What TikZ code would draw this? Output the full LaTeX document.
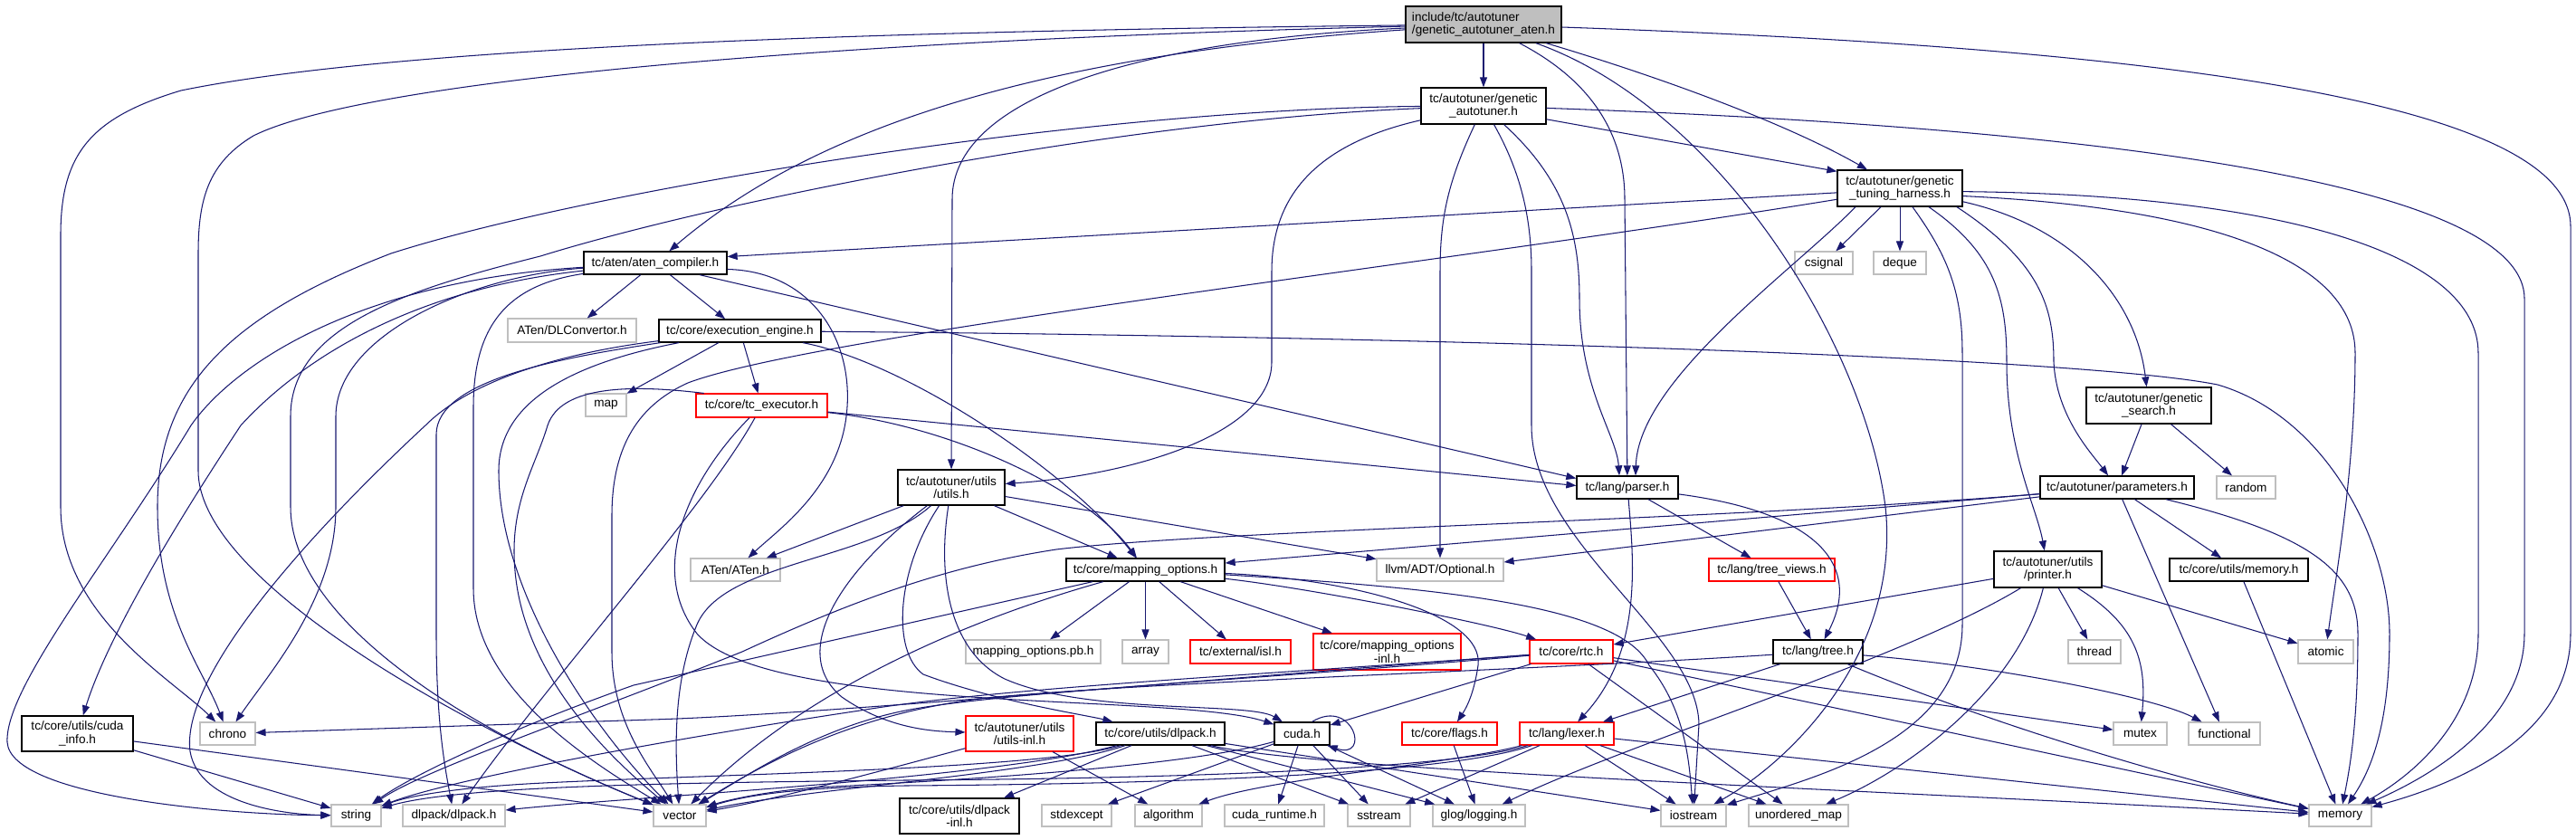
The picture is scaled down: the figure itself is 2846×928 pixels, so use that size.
\documentclass[tikz,border=0pt]{standalone}
\usepackage{fontspec}
\newfontfamily\nf{Liberation Sans}
\usetikzlibrary{arrows.meta}
\definecolor{ec}{HTML}{191970}
\definecolor{gb}{HTML}{BFBFBF}
\definecolor{rb}{HTML}{FF0000}
\newcommand\dfont{\nf\fontsize{13.6pt}{14.5pt}\selectfont}
\begin{document}
\begin{tikzpicture}[x=1pt,y=-1pt,
 nb/.style={draw=black,line width=1.3pt,fill=white,inner sep=0pt,align=center,font=\dfont},
 ng/.style={nb,draw=gb,line width=1.1pt},
 nr/.style={nb,draw=rb,line width=1.1pt},
 sz/.style 2 args={minimum width=#1pt,minimum height=#2pt},
 e/.style={draw=ec,line width=1.05pt,-{Triangle[length=11pt,width=8pt]}}]
\useasboundingbox (0,0) rectangle (2846,928);
\fill[white] (0,0) rectangle (2846,928);
% nodes
\node[nb,fill=gb,sz={172}{40},align=left] (root) at (1639,27) {include/tc/autotuner\\/genetic\_autotuner\_aten.h};
\node[nb,sz={138}{40}] (genauto) at (1639,117) {tc/autotuner/genetic\\\_autotuner.h};
\node[nb,sz={138}{40}] (harness) at (2099,208) {tc/autotuner/genetic\\\_tuning\_harness.h};
\node[nb,sz={158}{25}] (aten) at (724,290.5) {tc/aten/aten\_compiler.h};
\node[ng,sz={64}{25}] (csignal) at (2015,290.5) {csignal};
\node[ng,sz={58}{25}] (deque) at (2099,290.5) {deque};
\node[ng,sz={142}{26}] (dlconv) at (632,365) {ATen/DLConvertor.h};
\node[nb,sz={179}{25}] (exec) at (817.5,365.5) {tc/core/execution\_engine.h};
\node[ng,sz={45}{25}] (map) at (669.5,447.5) {map};
\node[nr,sz={145}{26}] (tcexec) at (841.5,448) {tc/core/tc\_executor.h};
\node[nb,sz={138}{40}] (search) at (2374,448) {tc/autotuner/genetic\\\_search.h};
\node[nb,sz={118}{39}] (utils) at (1051,538.5) {tc/autotuner/utils\\/utils.h};
\node[nb,sz={112}{25}] (parser) at (1798,538.5) {tc/lang/parser.h};
\node[nb,sz={170}{25}] (params) at (2339,538.5) {tc/autotuner/parameters.h};
\node[ng,sz={65}{25}] (random) at (2481.5,538.5) {random};
\node[ng,sz={99}{25}] (atenh) at (812.5,629.5) {ATen/ATen.h};
\node[nb,sz={175}{25}] (mapopt) at (1265.5,629.5) {tc/core/mapping\_options.h};
\node[ng,sz={140}{25}] (optional) at (1591,629.5) {llvm/ADT/Optional.h};
\node[nr,sz={139}{25}] (treeviews) at (1957.5,629.5) {tc/lang/tree\_views.h};
\node[nb,sz={119}{40}] (printer) at (2262.5,629) {tc/autotuner/utils\\/printer.h};
\node[nb,sz={153}{25}] (memh) at (2473.5,629.5) {tc/core/utils/memory.h};
\node[ng,sz={149}{26}] (pb) at (1141.5,720) {mapping\_options.pb.h};
\node[ng,sz={51}{26}] (array) at (1265.5,720) {array};
\node[nr,sz={111}{26}] (isl) at (1370.5,720) {tc/external/isl.h};
\node[nr,sz={163}{40}] (mapoptinl) at (1532.5,720) {tc/core/mapping\_options\\-inl.h};
\node[nr,sz={92}{26}] (rtc) at (1736,720) {tc/core/rtc.h};
\node[nb,sz={99}{26}] (tree) at (2008.5,720) {tc/lang/tree.h};
\node[ng,sz={58}{26}] (thread) at (2314,720) {thread};
\node[ng,sz={61}{26}] (atomic) at (2569.5,720) {atomic};
\node[nb,sz={123}{39}] (cudainfo) at (85.5,810.5) {tc/core/utils/cuda\\\_info.h};
\node[ng,sz={61}{25}] (chrono) at (251.5,810.5) {chrono};
\node[nr,sz={119}{39}] (utilsinl) at (1126.5,810.5) {tc/autotuner/utils\\/utils-inl.h};
\node[nb,sz={142}{25}] (dlpackh) at (1282,810.5) {tc/core/utils/dlpack.h};
\node[nb,sz={61}{25}] (cudah) at (1438.5,810.5) {cuda.h};
\node[nr,sz={105}{25}] (flags) at (1601.5,810.5) {tc/core/flags.h};
\node[nr,sz={104}{25}] (lexer) at (1731,810.5) {tc/lang/lexer.h};
\node[ng,sz={59}{25}] (mutex) at (2364.5,810.5) {mutex};
\node[ng,sz={79}{25}] (functional) at (2457.5,810.5) {functional};
\node[ng,sz={55}{24}] (string) at (393.5,901) {string};
\node[ng,sz={113}{24}] (dlpackdl) at (501.5,901) {dlpack/dlpack.h};
\node[ng,sz={58}{24}] (vector) at (751,901) {vector};
\node[nb,sz={132}{39}] (dlpackinl) at (1060,901.5) {tc/core/utils/dlpack\\-inl.h};
\node[ng,sz={77}{24}] (stdexcept) at (1189.5,901) {stdexcept};
\node[ng,sz={74}{24}] (algorithm) at (1291,901) {algorithm};
\node[ng,sz={110}{24}] (cudart) at (1408,901) {cuda\_runtime.h};
\node[ng,sz={69}{24}] (sstream) at (1523.5,901) {sstream};
\node[ng,sz={102}{24}] (logging) at (1634,901) {glog/logging.h};
\node[ng,sz={72}{24}] (iostream) at (1871,901) {iostream};
\node[ng,sz={110}{24}] (umap) at (1987,901) {unordered\_map};
\node[ng,sz={69}{24}] (memory) at (2585.5,901) {memory};
% root
\draw[e] (root) -- (genauto);
\draw[e] (root) .. controls (1150,60) and (900,140) .. (aten);
\draw[e] (root) .. controls (1250,45) and (1052,110) .. (1052,220) -- (utils);
\draw[e] (root) .. controls (900,35) and (420,55) .. (200,100) .. controls (100,130) and (67,170) .. (67,260) -- (67,560) .. controls (67,680) and (190,750) .. (chrono);
\draw[e] (root) .. controls (900,45) and (400,90) .. (280,150) .. controls (230,180) and (219,220) .. (219,280) -- (219,520) .. controls (219,650) and (550,820) .. (vector);
\draw[e] (root) .. controls (1760,90) and (1795,150) .. (1795,220) -- (parser);
\draw[e] (root) .. controls (1900,120) and (2060,380) .. (2083,560) .. controls (2100,720) and (1980,840) .. (iostream);
\draw[e] (root) .. controls (1850,90) and (1980,140) .. (harness);
\draw[e] (root) .. controls (2300,50) and (2840,100) .. (2840,250) -- (2840,700) .. controls (2840,820) and (2700,870) .. (memory);
% genetic_autotuner
\draw[e] (genauto) .. controls (1200,120) and (650,210) .. (432,280) .. controls (250,350) and (174,430) .. (174,560) .. controls (174,680) and (225,740) .. (chrono);
\draw[e] (genauto) .. controls (1250,132) and (800,220) .. (597,283) .. controls (450,320) and (321,360) .. (321,460) -- (321,560) .. controls (321,680) and (500,800) .. (vector);
\draw[e] (genauto) .. controls (1450,160) and (1405,220) .. (1405,300) -- (1405,400) .. controls (1405,480) and (1250,525) .. (utils);
\draw[e] (genauto) .. controls (1600,200) and (1591,240) .. (1591,300) -- (optional);
\draw[e] (genauto) .. controls (1680,190) and (1692,240) .. (1692,300) -- (1692,470) .. controls (1692,600) and (1875,700) .. (1877,800) -- (iostream);
\draw[e] (genauto) .. controls (1730,200) and (1745,260) .. (1745,330) .. controls (1745,430) and (1786,480) .. ([xshift=-9pt]parser.north);
\draw[e] (genauto) .. controls (2300,140) and (2789,200) .. (2789,330) -- (2789,700) .. controls (2789,800) and (2680,860) .. (memory);
\draw[e] (genauto.-12) -- (harness.165);
% harness
\draw[e] (harness.184) -- (aten.5);
\draw[e] (harness.190) .. controls (1600,290) and (900,370) .. (760,423) .. controls (700,450) and (676,500) .. (676,570) -- (676,720) .. controls (676,800) and (720,850) .. (vector);
\draw[e] ([xshift=-49pt]harness.south) .. controls (1980,300) and (1810,420) .. ([xshift=9pt]parser.north);
\draw[e] ([xshift=-21pt]harness.south) -- (csignal);
\draw[e] (harness) -- (deque);
\draw[e] ([xshift=14pt]harness.south) .. controls (2150,280) and (2168,320) .. (2168,390) -- (2168,690) .. controls (2168,820) and (2000,860) .. (iostream);
\draw[e] ([xshift=32pt]harness.south) .. controls (2205,280) and (2217,330) .. (2217,400) .. controls (2217,500) and (2250,560) .. (printer);
\draw[e] ([xshift=63pt]harness.south) .. controls (2255,290) and (2269,340) .. (2269,400) .. controls (2272,460) and (2310,500) .. (params);
\draw[e] (harness.-12) .. controls (2290,250) and (2360,330) .. (search);
\draw[e] (harness.-3) .. controls (2520,215) and (2738,280) .. (2738,390) -- (2738,700) .. controls (2738,800) and (2660,860) .. (memory);
\draw[e] (harness.-7) .. controls (2450,230) and (2602,290) .. (2602,390) .. controls (2602,520) and (2580,640) .. (atomic);
% aten_compiler
\draw[e] (aten) -- (dlconv);
\draw[e] (aten) -- (exec);
\draw[e] (aten.-5) .. controls (900,300) and (945,380) .. (935,460) .. controls (925,540) and (860,585) .. (atenh);
\draw[e] ([xshift=49pt]aten.south) -- ([yshift=10pt]parser.west);
\draw[e] (aten) .. controls (450,320) and (330,400) .. (266,470) .. controls (200,570) and (120,700) .. (cudainfo);
\draw[e] (aten) .. controls (400,310) and (260,400) .. (211,470) .. controls (120,620) and (5,760) .. (8,820) .. controls (12,880) and (250,900) .. (string);
\draw[e] (aten) .. controls (520,305) and (371,370) .. (371,460) -- (371,560) .. controls (371,660) and (300,740) .. (chrono);
\draw[e] (aten) .. controls (560,315) and (523,360) .. (523,450) -- (523,650) .. controls (523,760) and (650,840) .. (vector);
% execution_engine
\draw[e] (exec) -- (map);
\draw[e] (exec) -- (tcexec);
\draw[e] (exec) .. controls (1000,400) and (1180,520) .. (mapopt);
\draw[e] (exec) .. controls (1600,372) and (2300,395) .. (2450,425) .. controls (2570,460) and (2640,600) .. (2640,700) .. controls (2640,800) and (2620,850) .. (memory);
\draw[e] (exec) .. controls (620,390) and (520,420) .. (470,470) .. controls (330,600) and (200,750) .. (210,830) .. controls (220,890) and (320,900) .. (string);
\draw[e] (exec) .. controls (620,395) and (482,420) .. (482,480) -- (482,700) .. controls (482,800) and (492,850) .. (dlpackdl);
\draw[e] (exec) .. controls (640,400) and (551,440) .. (551,520) .. controls (551,650) and (650,800) .. (vector);
% tc_executor
\draw[e] (tcexec) -- ([yshift=2pt]parser.west);
\draw[e] (tcexec) .. controls (1050,470) and (1200,540) .. (mapopt);
\draw[e] (tcexec) .. controls (780,560) and (600,760) .. (dlpackdl);
\draw[e] (tcexec) .. controls (760,530) and (715,630) .. (770,700) .. controls (850,790) and (1300,765) .. (cudah);
\draw[e] (tcexec.168) .. controls (700,425) and (620,425) .. (605,470) .. controls (590,520) and (560,560) .. (570,640) .. controls (585,760) and (690,850) .. (vector);
% utils
\draw[e] (utils) -- (atenh);
\draw[e] (utils) -- (mapopt);
\draw[e] (utils) -- (optional);
\draw[e] (utils) .. controls (960,620) and (800,620) .. (770,690) .. controls (745,750) and (745,820) .. (vector);
\draw[e] (utils) .. controls (930,630) and (870,720) .. (930,770) .. controls (980,805) and (1030,808) .. (utilsinl);
\draw[e] (utils) .. controls (990,630) and (985,720) .. (1020,745) .. controls (1100,775) and (1200,790) .. (dlpackh);
\draw[e] (utils) .. controls (1035,640) and (1050,720) .. (1110,750) .. controls (1200,790) and (1380,775) .. (cudah);
% mapping_options
\draw[e] (mapopt) -- (pb);
\draw[e] (mapopt) -- (array);
\draw[e] (mapopt) -- (isl);
\draw[e] (mapopt) -- (mapoptinl);
\draw[e] (mapopt) .. controls (1450,650) and (1650,690) .. (rtc);
\draw[e] (mapopt) .. controls (1500,640) and (1640,680) .. (1633,735) .. controls (1628,770) and (1618,785) .. (flags);
\draw[e] (mapopt) .. controls (1600,650) and (1790,670) .. (1822,735) .. controls (1862,785) and (1866,840) .. (iostream);
\draw[e] (mapopt) -- (700,757) .. controls (550,810) and (450,860) .. (string);
\draw[e] (mapopt) .. controls (1050,690) and (880,770) .. (vector);
% rtc
\draw[e] (rtc) -- (cudah);
\draw[e] (rtc) .. controls (1400,745) and (900,790) .. (720,795) -- (chrono);
\draw[e] (rtc) .. controls (1400,745) and (1100,760) .. (950,785) .. controls (750,815) and (500,860) .. (string);
\draw[e] (rtc) .. controls (1400,750) and (1100,765) .. (1000,785) .. controls (900,805) and (820,860) .. (vector);
\draw[e] (rtc) -- (umap);
\draw[e] (rtc) -- (mutex);
\draw[e] (rtc) -- (memory);
% tree
\draw[e] (tree) -- (lexer);
\draw[e] (tree) .. controls (2200,735) and (2380,770) .. (functional);
\draw[e] (tree) .. controls (2200,800) and (2400,860) .. (memory);
\draw[e] (tree) .. controls (1700,740) and (1300,752) .. (1100,770) .. controls (950,785) and (850,840) .. (vector);
% lexer
\draw[e] (lexer) -- (sstream);
\draw[e] (lexer) -- (iostream);
\draw[e] (lexer) -- (umap);
\draw[e] (lexer) -- (memory);
\draw[e] (lexer) .. controls (1600,850) and (1300,860) .. (1000,862) .. controls (700,865) and (500,870) .. (string);
\draw[e] (lexer) .. controls (1600,855) and (1300,866) .. (1000,868) .. controls (870,870) and (820,880) .. (vector);
\draw[e] (lexer) .. controls (1600,845) and (1400,860) .. (algorithm);
% dlpack.h
\draw[e] (dlpackh) -- (dlpackinl);
\draw[e] (dlpackh) .. controls (1100,860) and (700,880) .. (dlpackdl);
\draw[e] (dlpackh) .. controls (1150,850) and (800,855) .. (600,865) .. controls (500,870) and (450,880) .. (string);
\draw[e] (dlpackh) .. controls (1150,855) and (900,870) .. (vector);
\draw[e] (dlpackh) -- (sstream);
\draw[e] (dlpackh) -- (logging);
\draw[e] (dlpackh) -- (iostream);
\draw[e] (dlpackh) .. controls (1450,850) and (2000,870) .. (memory);
% cuda.h
\draw[e] (cudah) -- (cudart);
\draw[e] (cudah) -- (sstream);
\draw[e] (cudah) -- (logging);
\draw[e] (cudah) -- (stdexcept);
\draw[e] (cudah) .. controls (1300,850) and (1000,865) .. (900,870) .. controls (840,875) and (800,885) .. (vector);
\draw[e] (cudah.50) .. controls (1495,770) and (1515,840) .. (cudah.-25);
% others
\draw[e] (flags) -- (logging);
\draw[e] (utilsinl) .. controls (980,850) and (850,885) .. (vector);
\draw[e] (utilsinl) -- (algorithm);
\draw[e] (parser) -- (treeviews);
\draw[e] (parser) .. controls (2000,565) and (2060,620) .. (tree);
\draw[e] (parser) .. controls (1805,620) and (1815,720) .. (lexer);
\draw[e] (treeviews) -- (tree);
\draw[e] (params) -- (mapopt);
\draw[e] (params) -- (optional);
\draw[e] (params) .. controls (1900,575) and (1350,585) .. (1167,607) .. controls (1050,625) and (950,660) .. (820,720) .. controls (620,800) and (470,850) .. (string);
\draw[e] (params) -- (functional);
\draw[e] (params) -- (memh);
\draw[e] (params) .. controls (2550,590) and (2605,630) .. (2605,700) .. controls (2605,790) and (2598,840) .. (memory);
\draw[e] (search) -- (params);
\draw[e] (search) -- (random);
\draw[e] (memh) -- (memory);
\draw[e] (printer) -- (rtc);
\draw[e] (printer) -- (thread);
\draw[e] (printer) .. controls (2360,690) and (2372,730) .. (mutex);
\draw[e] (printer) -- (atomic);
\draw[e] ([xshift=-30pt]printer.south) .. controls (2100,730) and (1800,820) .. (logging);
\draw[e] (printer) .. controls (2230,760) and (2110,850) .. (umap);
\draw[e] (cudainfo) -- (string);
\draw[e] (cudainfo) -- (vector);
\end{tikzpicture}
\end{document}
